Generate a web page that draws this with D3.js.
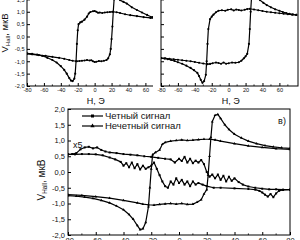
<!DOCTYPE html>
<html><head><meta charset="utf-8">
<script src="https://cdn.jsdelivr.net/npm/d3@7"></script>
<style>
body{margin:0;background:#fff}
svg{display:block}
text{font-family:"Liberation Sans",Arial,sans-serif;fill:#111}
</style>
</head><body>
<svg id="c" width="300" height="240"></svg>
<script>
// ---------- data ----------
const xTicksTop = [-80,-60,-40,-20,0,20,40,60];
const xTicksBot = [-80,-60,-40,-20,0,20,40,60,80];
const yTicks = [-2,-1.5,-1,-0.5,0,0.5,1,1.5,2];
const legendNames = ["Четный сигнал","Нечетный сигнал"];
const panelTag = "в)";
const scaleNote = "x5";
const xTitle = "H, Э";

// panel a (top-left)
const aUp = [[-80,-0.68],[-74,-0.7],[-68,-0.73],[-62,-0.78],[-56,-0.86],[-50,-0.95],[-45,-1.05],[-40,-1.2],[-36,-1.35],[-33,-1.5],[-30,-1.68],[-28,-1.78],[-26,-1.8],[-24,-1.7],[-23,-1.5],[-22,-1.0],[-21,-0.3],[-20,0.25],[-19,0.5],[-17,0.57],[-15,0.6],[-12,0.68],[-9,0.8],[-7,0.93],[-5,0.99],[-2,1.02],[0,1.03],[2,1.0],[4,0.96],[6,0.97],[9,0.95],[12,0.97],[15,0.98],[18,0.99],[21,1.0],[26,0.98],[30,0.95],[36,0.9],[42,0.86],[50,0.82],[58,0.78],[66,0.75],[74,0.72],[80,0.7]];
const aDown = [[-80,-0.7],[-74,-0.72],[-66,-0.75],[-58,-0.78],[-50,-0.82],[-42,-0.86],[-36,-0.9],[-30,-0.95],[-26,-0.98],[-21,-1.0],[-18,-0.99],[-15,-0.98],[-12,-0.97],[-9,-0.95],[-6,-0.97],[-4,-0.96],[-2,-1.0],[0,-1.03],[2,-1.02],[5,-0.99],[8,-1.0],[11,-0.98],[14,-0.95],[16,-0.88],[18,-0.72],[19,-0.5],[20,-0.1],[21,0.4],[22,1.0],[23,1.5],[24,1.8],[26,1.95],[28,1.75],[30,1.47],[34,1.4],[38,1.33],[44,1.18],[50,1.07],[56,0.97],[62,0.87],[68,0.78],[74,0.73],[80,0.7]];

// panel b (top-right)
const bUp = [[-80,-0.87],[-76,-0.89],[-72,-0.92],[-68,-0.95],[-64,-0.99],[-60,-1.04],[-55,-1.1],[-50,-1.18],[-45,-1.27],[-41,-1.36],[-37,-1.47],[-35,-1.6],[-33,-1.75],[-31,-1.87],[-29,-1.8],[-27,-1.55],[-26,-1.0],[-25,-0.3],[-24,0.3],[-22,0.7],[-20,0.8],[-18,0.88],[-15,0.98],[-12,1.04],[-8,1.06],[-4,1.04],[-1,1.08],[3,1.1],[6,1.05],[9,1.09],[12,1.07],[15,1.05],[19,1.08],[22,1.11],[25,1.12],[30,1.09],[35,1.06],[40,1.03],[45,1.0],[50,0.98],[55,0.96],[60,0.94],[65,0.92],[70,0.9],[75,0.88],[80,0.87]];
const bDown = [[-80,-0.87],[-75,-0.88],[-70,-0.9],[-65,-0.92],[-60,-0.94],[-55,-0.96],[-50,-0.98],[-45,-1.0],[-40,-1.03],[-35,-1.06],[-30,-1.09],[-25,-1.12],[-22,-1.11],[-19,-1.08],[-15,-1.05],[-12,-1.07],[-9,-1.1],[-6,-1.05],[-3,-1.1],[0,-1.08],[4,-1.05],[8,-1.06],[12,-1.04],[15,-0.98],[18,-0.88],[20,-0.8],[22,-0.7],[24,-0.3],[25,0.3],[26,1.0],[27,1.55],[29,1.8],[31,1.87],[33,1.75],[35,1.6],[37,1.47],[41,1.36],[45,1.27],[50,1.18],[55,1.1],[60,1.04],[64,0.99],[68,0.95],[72,0.92],[76,0.89],[80,0.87]];

// panel c (bottom) odd signal loop
const cOddUp = [[-80,-0.75],[-74,-0.77],[-68,-0.8],[-62,-0.84],[-56,-0.9],[-50,-0.98],[-45,-1.08],[-40,-1.2],[-36,-1.35],[-33,-1.5],[-30,-1.7],[-28,-1.83],[-26,-1.8],[-24,-1.6],[-22,-1.1],[-21,-0.5],[-20,0.1],[-19,0.55],[-17,0.62],[-14,0.7],[-12,0.88],[-10,0.94],[-6,0.98],[-2,1.0],[2,1.02],[6,1.0],[10,1.01],[14,1.03],[18,1.04],[22,1.04],[26,1.02],[30,0.98],[40,0.9],[50,0.83],[60,0.78],[70,0.74],[80,0.72]];
const cOddDown = [[-80,-0.72],[-70,-0.74],[-60,-0.78],[-50,-0.83],[-40,-0.9],[-30,-0.98],[-26,-1.02],[-22,-1.04],[-18,-1.05],[-14,-1.03],[-10,-1.01],[-6,-1.0],[-2,-1.02],[2,-1.0],[6,-1.03],[10,-1.02],[13,-0.96],[16,-0.88],[18,-0.7],[20,-0.56],[21,-0.1],[22,0.5],[23,1.1],[24,1.6],[26,1.8],[28,1.83],[30,1.7],[33,1.5],[36,1.35],[40,1.2],[45,1.08],[50,0.98],[56,0.9],[62,0.84],[68,0.8],[74,0.77],[80,0.75]];
// panel c even signal (x5)
const cEven1 = [[-80,0.56],[-77,0.57],[-74,0.6],[-71,0.72],[-68,0.78],[-65,0.8],[-62,0.75],[-59,0.78],[-56,0.7],[-53,0.65],[-50,0.62],[-45,0.6],[-40,0.57],[-35,0.55],[-30,0.53],[-25,0.5],[-20,0.48],[-15,0.45],[-10,0.42],[-6,0.4],[-3,0.3],[0,0.42],[2,0.35],[4,0.48],[6,0.3],[8,0.42],[10,0.28],[12,0.36],[14,0.3],[16,0.38],[18,0.25],[20,0.0],[22,-0.15],[24,-0.08],[26,-0.2],[28,-0.08],[30,-0.25],[32,-0.12],[34,-0.3],[36,-0.15],[38,-0.28],[40,-0.2],[43,-0.32],[46,-0.4],[50,-0.46],[55,-0.5],[60,-0.53],[65,-0.55],[70,-0.55],[75,-0.56],[80,-0.56]];
const cEven2 = [[-80,0.56],[-75,0.56],[-70,0.57],[-65,0.57],[-60,0.56],[-55,0.53],[-50,0.46],[-46,0.4],[-42,0.32],[-40,0.2],[-38,0.28],[-36,0.15],[-34,0.3],[-32,0.12],[-30,0.25],[-28,0.08],[-26,0.2],[-24,0.1],[-22,0.15],[-20,0.2],[-18,0.3],[-16,0.1],[-14,-0.1],[-12,-0.3],[-10,-0.45],[-8,-0.5],[-6,-0.3],[-4,-0.4],[-2,-0.2],[0,-0.35],[2,-0.25],[4,-0.4],[6,-0.3],[8,-0.45],[10,-0.3],[12,-0.4],[14,-0.35],[17,-0.4],[20,-0.45],[25,-0.5],[30,-0.5],[40,-0.52],[50,-0.54],[55,-0.56],[58,-0.6],[60,-0.65],[62,-0.72],[64,-0.78],[66,-0.7],[68,-0.8],[70,-0.68],[72,-0.6],[75,-0.57],[80,-0.56]];

// ---------- drawing ----------
const svg = d3.select("#c");
const fmtY = v => v.toFixed(1).replace(".", ",");
const fmtX = v => String(v);
let clipId = 0;

function marker(sel, type, s) {
  if (type === "circle") {
    sel.append("circle").attr("r", s).attr("fill", "#000");
  } else if (type === "square") {
    sel.append("rect").attr("x", -s).attr("y", -s).attr("width", 2*s).attr("height", 2*s).attr("fill", "#000");
  } else {
    sel.append("path").attr("d", d3.symbol(d3.symbolTriangle, s*s*3.5)()).attr("fill", "#000");
  }
}

function panel(cfg) {
  const g = svg.append("g");
  const x = d3.scaleLinear().domain(cfg.xd).range([cfg.l, cfg.r]);
  const y = d3.scaleLinear().domain([-2, 2]).range([cfg.b, cfg.t]);
  if (cfg.bg) {
    g.append("rect").attr("x", cfg.bg[0]).attr("y", cfg.bg[1]).attr("width", cfg.bg[2]).attr("height", cfg.bg[3]).attr("fill", "#fff");
  }
  const id = "clip" + (clipId++);
  g.append("clipPath").attr("id", id).append("rect")
    .attr("x", cfg.l).attr("y", cfg.t).attr("width", cfg.r - cfg.l).attr("height", cfg.b - cfg.t);
  const plot = g.append("g").attr("clip-path", `url(#${id})`);
  const line = d3.line().x(d => x(d[0])).y(d => y(d[1]));
  cfg.series.forEach(s => {
    plot.append("path").attr("d", line(s.data)).attr("fill", "none")
      .attr("stroke", "#000").attr("stroke-width", cfg.lw).attr("stroke-linejoin", "round");
    s.data.forEach(d => {
      const m = plot.append("g").attr("transform", `translate(${x(d[0])},${y(d[1])})`);
      marker(m, s.marker, cfg.ms);
    });
  });
  const ax = g.append("g").attr("transform", `translate(0,${cfg.b})`)
    .call(d3.axisBottom(x).tickValues(cfg.xt).tickSizeInner(-3).tickSizeOuter(0).tickPadding(cfg.xpad).tickFormat(fmtX));
  ax.select(".domain").remove();
  ax.selectAll("text").attr("font-size", cfg.fs).attr("fill", "#222");
  const minorX = d3.range(cfg.xd[0] + 10, cfg.xd[1], 20);
  g.append("g").selectAll("line").data(minorX).join("line")
    .attr("x1", d => x(d)).attr("x2", d => x(d)).attr("y1", cfg.b).attr("y2", cfg.b - 1.6).attr("stroke", "#000").attr("stroke-width", 0.8);
  const ay = g.append("g").attr("transform", `translate(${cfg.l},0)`)
    .call(d3.axisLeft(y).tickValues(yTicks).tickSizeInner(-3).tickSizeOuter(0).tickPadding(cfg.ypad).tickFormat(fmtY));
  ay.select(".domain").remove();
  ay.selectAll("text").attr("font-size", cfg.fs).attr("fill", "#222");
  if (!cfg.yLabels) ay.selectAll("text").remove();
  g.append("rect").attr("x", cfg.l).attr("y", cfg.t).attr("width", cfg.r - cfg.l).attr("height", cfg.b - cfg.t)
    .attr("fill", "none").attr("stroke", "#000").attr("stroke-width", 1);
  return {g, x, y};
}

function yTitle(cx, cy, fs) {
  const t = svg.append("text").attr("transform", `translate(${cx},${cy}) rotate(-90)`)
    .attr("text-anchor", "middle").attr("font-size", fs);
  t.append("tspan").text("V");
  t.append("tspan").attr("font-size", fs * 0.63).attr("dy", 2).text("Hall");
  t.append("tspan").attr("dy", -2).text(", мкВ");
}

// panel a
const pa = panel({l: 27, r: 164, t: -13, b: 86, xd: [-80, 82], xt: xTicksTop, lw: 1.2, ms: 1.1, fs: 5.6, xpad: 2, ypad: 2.5, yLabels: true,
  series: [{data: aUp, marker: "circle"}, {data: aDown, marker: "circle"}]});
svg.append("text").attr("x", pa.x(0) + 1).attr("y", 104).attr("text-anchor", "middle").attr("font-size", 9).text(xTitle);
yTitle(8, 33, 9.5);

// panel b
const pb = panel({l: 161, r: 298, t: -13, b: 86, xd: [-80, 82], xt: xTicksTop, lw: 1.2, ms: 1.1, fs: 5.6, xpad: 2, ypad: 2.5, yLabels: false,
  bg: [153, 0, 147, 106],
  series: [{data: bUp, marker: "circle"}, {data: bDown, marker: "circle"}]});
svg.append("text").attr("x", pb.x(0) + 2).attr("y", 104).attr("text-anchor", "middle").attr("font-size", 9).text(xTitle);

// panel c
const pc = panel({l: 68, r: 290, t: 109, b: 235, xd: [-80, 80], xt: xTicksBot, lw: 1.2, ms: 1.0, fs: 7.5, xpad: 2.5, ypad: 3, yLabels: true,
  bg: [0, 106, 300, 134],
  series: [{data: cEven1, marker: "square"}, {data: cEven2, marker: "square"},
           {data: cOddUp, marker: "triangle"}, {data: cOddDown, marker: "triangle"}]});
yTitle(45, 180, 10);
svg.append("text").attr("x", 282).attr("y", 124).attr("text-anchor", "middle").attr("font-size", 9).text(panelTag);
svg.append("text").attr("x", 73).attr("y", 148).attr("font-size", 9).text(scaleNote);

// legend
const lg = svg.append("g");
legendNames.forEach((name, i) => {
  const yy = 116 + i * 10;
  lg.append("line").attr("x1", 82).attr("x2", 103).attr("y1", yy).attr("y2", yy).attr("stroke", "#000").attr("stroke-width", 1.2);
  const m = lg.append("g").attr("transform", `translate(92.5,${yy})`);
  marker(m, i === 0 ? "square" : "triangle", 1.5);
  lg.append("text").attr("x", 105).attr("y", yy + 3.3).attr("font-size", 9.5).text(name);
});
</script>
</body></html>
